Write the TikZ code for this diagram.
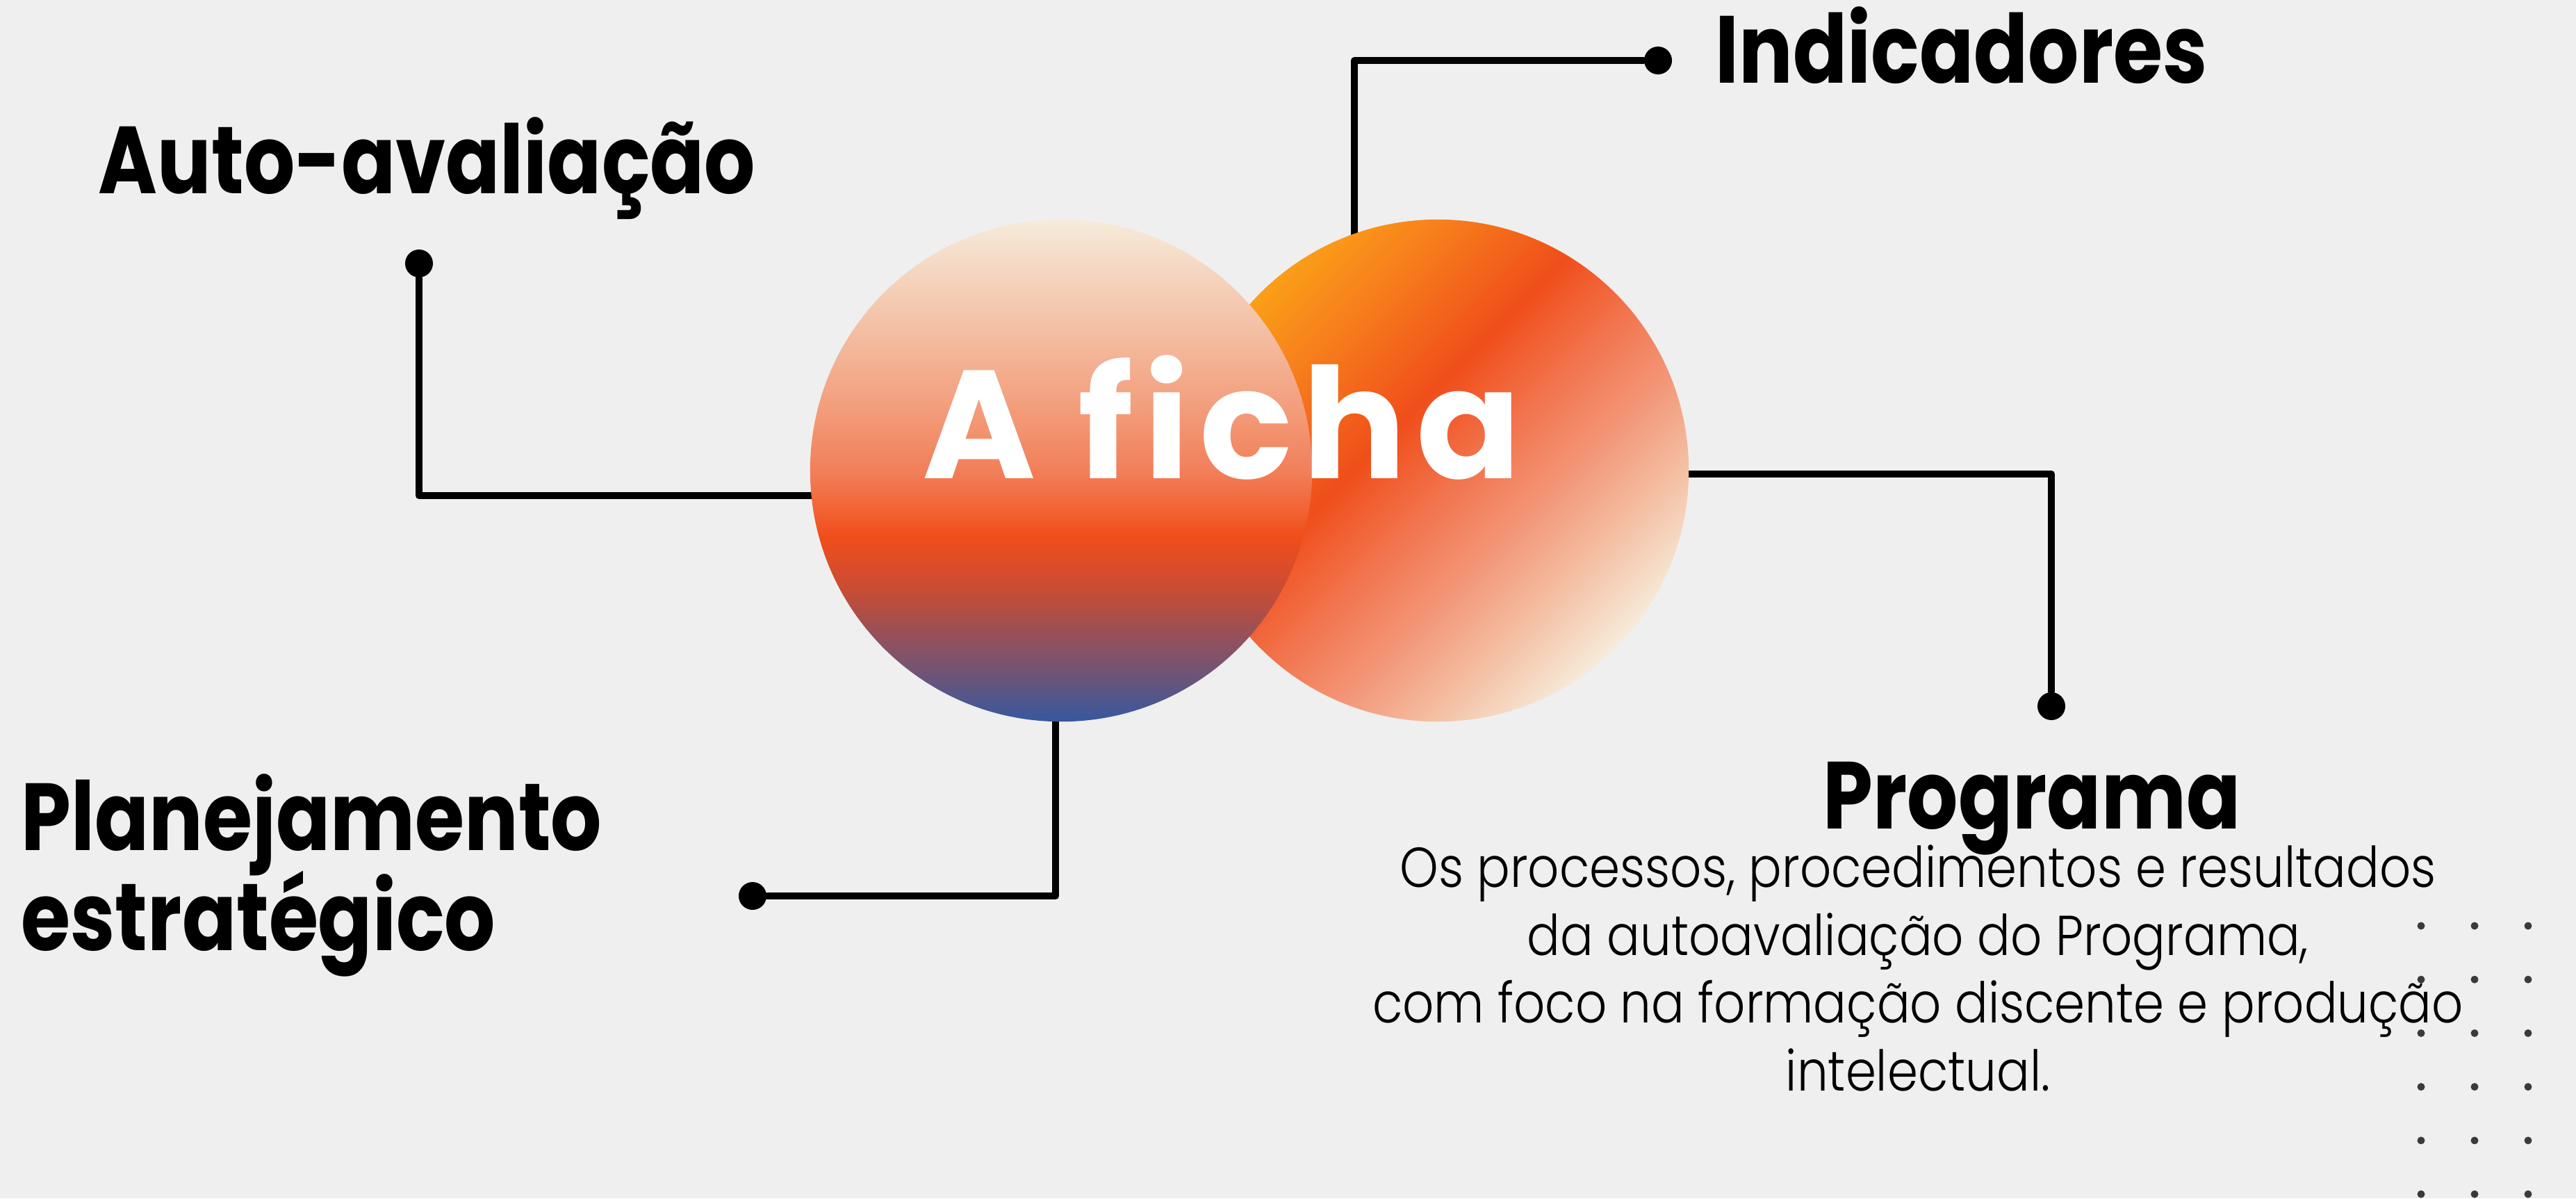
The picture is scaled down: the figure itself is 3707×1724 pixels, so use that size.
\documentclass[tikz,border=0pt]{standalone}
\usepackage{fontspec}
\setmainfont{Poppins}
\newfontfamily\headfont[FakeStretch=0.84]{Poppins Bold}
\newfontfamily\bodyfont[FakeStretch=0.874]{Poppins Light}
\newfontfamily\fichafont[LetterSpace=6.5]{Poppins Bold}
\setlength{\lineskiplimit}{-100pt}
\usetikzlibrary{positioning}

\definecolor{paper}{HTML}{EFEFEF}
\definecolor{speckgrey}{HTML}{3A3A3A}
\definecolor{cream}{HTML}{F6EBDA}
\definecolor{lA}{HTML}{36589F}
\definecolor{lB}{HTML}{725474}
\definecolor{lC}{HTML}{9A5056}
\definecolor{lD}{HTML}{BC4D3C}
\definecolor{lE}{HTML}{D84C2C}
\definecolor{flame}{HTML}{F04E1A}
\definecolor{lG}{HTML}{F26638}
\definecolor{lH}{HTML}{F27F5A}
\definecolor{lI}{HTML}{F3A382}
\definecolor{lJ}{HTML}{F4C3A8}
\definecolor{rA}{HTML}{FB9E18}
\definecolor{rB}{HTML}{F7801C}
\definecolor{rD}{HTML}{F27650}
\definecolor{rE}{HTML}{F3987A}
\definecolor{rF}{HTML}{F4C1A5}

\pgfdeclareverticalshading{fichafront}{100bp}{color(0bp)=(lA); color(25bp)=(lA);
  color(30bp)=(lB); color(34bp)=(lC); color(37bp)=(lD); color(40bp)=(lE);
  color(43.5bp)=(flame); color(46.5bp)=(lG); color(50bp)=(lH); color(57.5bp)=(lI);
  color(65bp)=(lJ); color(75bp)=(cream); color(100bp)=(cream)}
\pgfdeclarehorizontalshading{fichaback}{100bp}{color(0bp)=(rA); color(25bp)=(rA);
  color(32.5bp)=(rB); color(44bp)=(flame); color(52.5bp)=(rD); color(60bp)=(rE);
  color(67.5bp)=(rF); color(75bp)=(cream); color(100bp)=(cream)}

\tikzset{
  heading/.style={font=\headfont\fontsize{39}{40.7}\selectfont, anchor=base west, inner sep=0pt},
  blurb/.style={font=\bodyfont\fontsize{23}{27.7}\selectfont, align=center, anchor=base, inner sep=0pt},
  leader/.style={line width=0.1cm},
  knob/.style={circle, fill=black, minimum size=0.4cm, inner sep=0pt},
  ball/.style={circle, minimum size=7.22cm, inner sep=0pt, shade},
  speck/.style={fill=speckgrey}
}

\begin{document}
\begin{tikzpicture}[x=0.01cm,y=-0.01cm,line cap=round,line join=round]
\useasboundingbox (0,0) rectangle (3707,1724);
\fill[paper] (0,0) rectangle (3707,1724);
\foreach \i in {0,1,2}
  \foreach \j in {0,...,5}
    \fill[speck] (3484+77*\i,1332+77.2*\j) circle (5.5);

\coordinate (lc) at (1527,677);
\coordinate (rc) at (2069,677);
\coordinate (autoend) at (1400,713);
\coordinate (indend) at (1949,420);
\coordinate (progend) at (2300,682);
\coordinate (planend) at (1519,950);

\node[knob] (autodot) at (603,379) {};
\node[knob] (inddot) at (2386,87) {};
\node[knob] (progdot) at (2952,1016) {};
\node[knob] (plandot) at (1083,1289) {};

\draw[leader] (autodot) |- (autoend);
\draw[leader] (indend) |- (inddot);
\draw[leader] (progend) -| (progdot);
\draw[leader] (planend) |- (plandot);

\node[ball, shading=fichaback, shading angle=-45] (rball) at (rc) {};
\node[ball, shading=fichafront] (lball) at (lc) {};
\node[font=\fichafont\fontsize{63}{66}\selectfont, text=white, anchor=base, inner sep=0pt] (ficha) at (1758,688) {A ficha};

\node[heading] (auto) at (141,278) {Auto-avalia\c{c}\~ao};
\node[heading] (ind) at (2468,119) {Indicadores};
\node[heading, align=left] (plan) at (30,1367) {Planejamento\\estrat\'egico};
\node[heading, anchor=base] (prog) at (2924,1192) {Programa};
\node[blurb] (progtext) at (2760,1569) {Os processos, procedimentos e resultados\\da autoavalia\c{c}\~ao do Programa,\\com foco na forma\c{c}\~ao discente e produ\c{c}\~ao\\intelectual.};
\end{tikzpicture}
\end{document}
